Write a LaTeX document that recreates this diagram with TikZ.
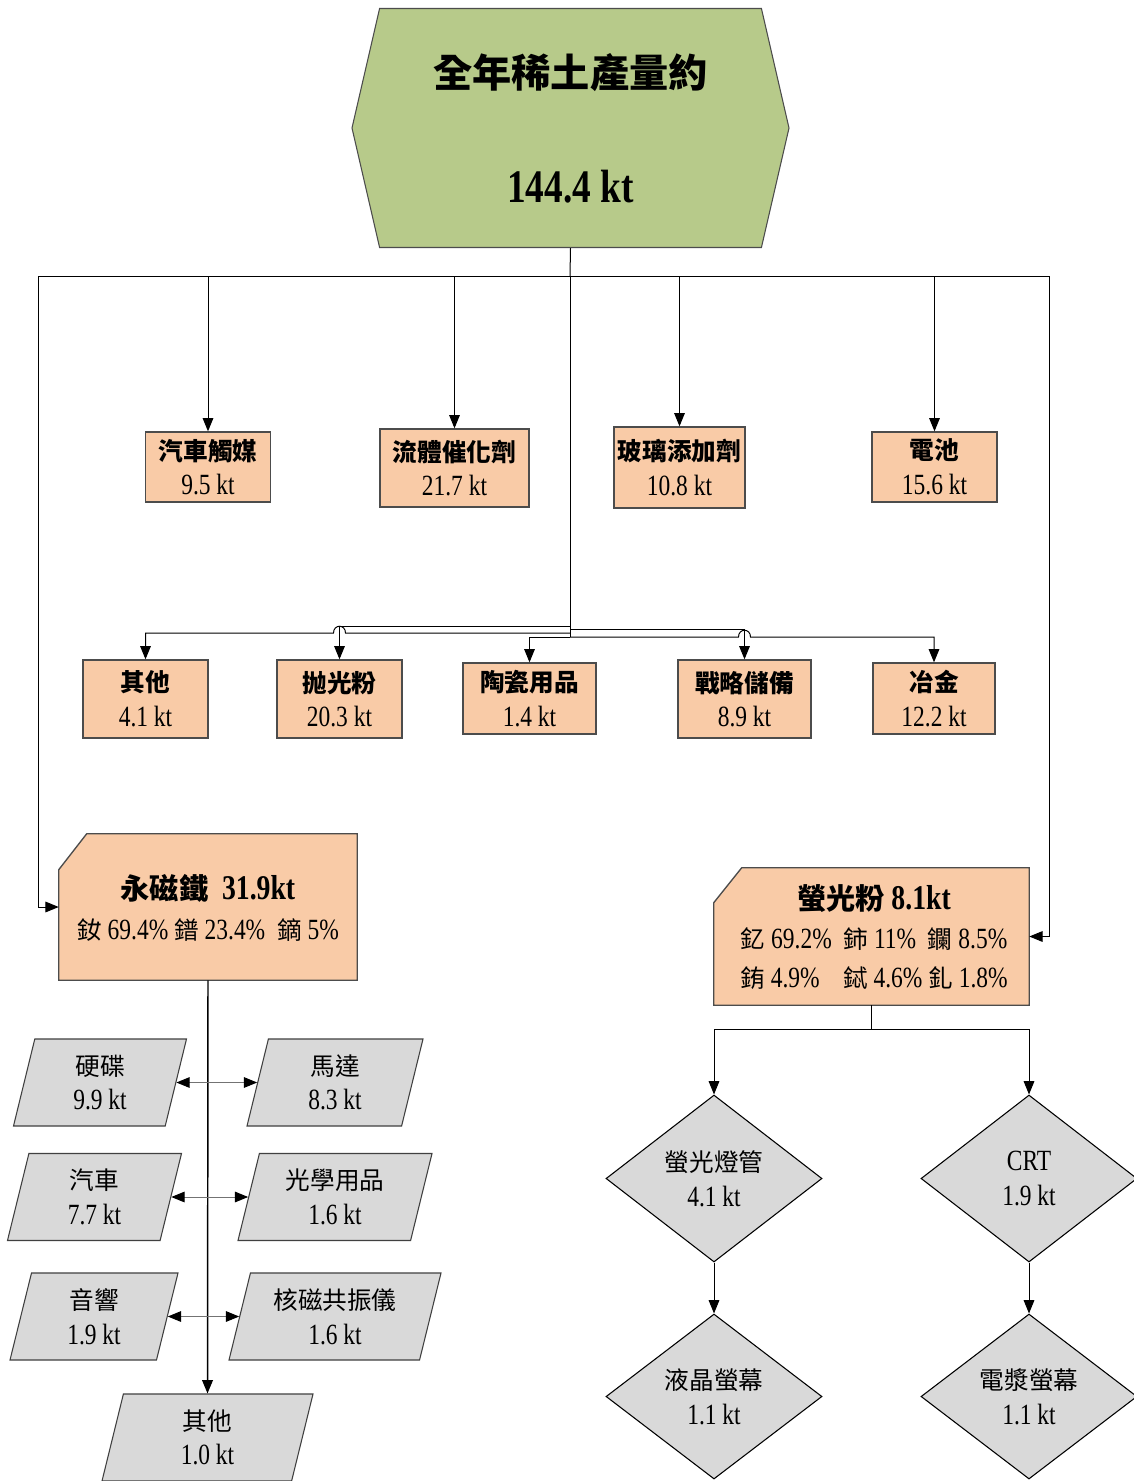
\documentclass[tikz,border=0pt]{standalone}
\usepackage{fontspec}
\setmainfont[FakeStretch=0.8]{Liberation Serif}
\newfontfamily\cjk[Scale=0.84]{Noto Sans CJK TC}
\usetikzlibrary{shapes.geometric,shapes.symbols,arrows.meta,calc}
\newcommand\zh[1]{{\cjk #1}}
\newcommand\zhb[1]{{\cjk\bfseries #1}}
\newcommand\pxu{0.75pt}
\definecolor{peach}{HTML}{F9CBA7}
\definecolor{leaf}{HTML}{B7CA8A}
\definecolor{ash}{HTML}{D9D9D9}

\begin{document}
\begin{tikzpicture}[x=0.75pt,y=-0.75pt,
  txt/.style={align=center, font=\fontsize{22}{26}\selectfont, inner sep=0pt},
  usebox/.style={txt, draw=black!70, line width=1pt, fill=peach},
  pgram/.style={txt, shape=trapezium, trapezium left angle=69, trapezium right angle=111,
    trapezium stretches body, draw=black!75, line width=0.8pt, fill=ash, minimum height=87*\pxu},
  gem/.style={txt, shape=diamond, draw=black, line width=0.8pt, fill=ash,
    minimum width=216*\pxu, minimum height=167*\pxu},
  cutframe/.style={inner sep=0pt, shape=rectangle},
  cutedge/.style={draw=black!70, line width=1pt, fill=peach},
  cuttext/.style={txt, font=\fontsize{22}{29}\selectfont},
  arr/.style={-{Triangle[length=10pt,width=8pt]}, line width=0.75pt},
  darr/.style={{Triangle[length=10pt,width=8pt,color=black]}-{Triangle[length=10pt,width=8pt,color=black]},
    line width=0.75pt, draw=black!55}
]
\useasboundingbox (0,0) rectangle (1133,1481);
\fill[white] (0,0) rectangle (1133,1481);

% total output
\node[signal, signal to=east and west, signal pointer angle=154, draw=black!70, line width=0.8pt,
  fill=leaf, minimum width=437*\pxu, minimum height=239*\pxu, inner sep=0pt, align=center,
  font=\fontsize{35}{86}\selectfont\bfseries] (top) at (570.5,128) {\zh{全年稀土產量約}\\144.4 kt};

% first row of uses
\node[usebox, minimum width=125*\pxu, minimum height=70*\pxu] (cat) at (208,467) {\zhb{汽車觸媒}\\9.5 kt};
\node[usebox, minimum width=149*\pxu, minimum height=78*\pxu] (fcc) at (454.5,468) {\zhb{流體催化劑}\\21.7 kt};
\node[usebox, minimum width=131*\pxu, minimum height=81*\pxu] (gla) at (679.5,467.5) {\zhb{玻璃添加劑}\\10.8 kt};
\node[usebox, minimum width=125*\pxu, minimum height=70*\pxu] (bat) at (934.5,467) {\zhb{電池}\\15.6 kt};

% second row of uses
\node[usebox, minimum width=125*\pxu, minimum height=78*\pxu] (oth) at (145.5,699) {\zhb{其他}\\4.1 kt};
\node[usebox, minimum width=125*\pxu, minimum height=78*\pxu] (pol) at (339.5,699) {\zhb{抛光粉}\\20.3 kt};
\node[usebox, minimum width=133*\pxu, minimum height=71*\pxu] (cer) at (529.5,698.5) {\zhb{陶瓷用品}\\1.4 kt};
\node[usebox, minimum width=133*\pxu, minimum height=78*\pxu] (str) at (744.5,699) {\zhb{戰略儲備}\\8.9 kt};
\node[usebox, minimum width=122*\pxu, minimum height=71*\pxu] (met) at (934,698.5) {\zhb{冶金}\\12.2 kt};

% magnets: box with a cut top-left corner
\node[cutframe, minimum width=298*\pxu, minimum height=146*\pxu] (pm) at (208,907) {};
\path[cutedge] ($(pm.north west)+(0,36)$) -- ($(pm.north west)+(28,0)$) -- (pm.north east)
  -- (pm.south east) -- (pm.south west) -- cycle;
\node[cuttext, font=\fontsize{22}{30}\selectfont] (pmt) at (208,908)
  {{\fontsize{26}{30}\selectfont\bfseries\zh{永磁鐵}\ \ 31.9kt}\\
   \zh{釹} 69.4\% \zh{鐠} 23.4\%\ \ \zh{鏑} 5\%};

% phosphors: box with a cut top-left corner
\node[cutframe, minimum width=315*\pxu, minimum height=137*\pxu] (ph) at (871.5,936.5) {};
\path[cutedge] ($(ph.north west)+(0,35)$) -- ($(ph.north west)+(28,0)$) -- (ph.north east)
  -- (ph.south east) -- (ph.south west) -- cycle;
\node[cuttext] (pht) at (874,937)
  {{\fontsize{26}{29}\selectfont\bfseries\zh{螢光粉} 8.1kt}\\
   \zh{釔} 69.2\%\ \ \zh{鈰} 11\%\ \ \zh{鑭} 8.5\%\\
   \zh{銪} 4.9\%\ \ \ \ \zh{鋱} 4.6\% \zh{釓} 1.8\%};

% magnet applications
\node[pgram, minimum width=173*\pxu] (hd)  at (100,1082.5)  {\zh{硬碟}\\9.9 kt};
\node[pgram, minimum width=176*\pxu] (mo)  at (335,1082.5)  {\zh{馬達}\\8.3 kt};
\node[pgram, minimum width=174*\pxu] (car) at (94.5,1197)   {\zh{汽車}\\7.7 kt};
\node[pgram, minimum width=194*\pxu] (opt) at (335,1197)    {\zh{光學用品}\\1.6 kt};
\node[pgram, minimum width=168*\pxu] (aud) at (94,1316.5)   {\zh{音響}\\1.9 kt};
\node[pgram, minimum width=212*\pxu] (mri) at (335,1316.5)  {\zh{核磁共振儀}\\1.6 kt};
\node[pgram, minimum width=211*\pxu] (oth2) at (207.5,1437.5) {\zh{其他}\\1.0 kt};

% phosphor applications
\node[gem] (d1) at (714,1178.5)  {\zh{螢光燈管}\\4.1 kt};
\node[gem] (d2) at (1029,1178.5) {CRT\\1.9 kt};
\node[gem, minimum height=165*\pxu] (d3) at (714,1396.5)  {\zh{液晶螢幕}\\1.1 kt};
\node[gem, minimum height=165*\pxu] (d4) at (1029,1396.5) {\zh{電漿螢幕}\\1.1 kt};

% distribution bus
\coordinate (bus) at (570,276);
\coordinate (busL) at (38,276);
\coordinate (busR) at (1049,276);
\draw[line width=0.75pt] (top.south) -- (bus);
\draw[line width=0.75pt] (busL) -- (busR);
\foreach \n in {cat,fcc,gla,bat} \draw[arr] (bus -| \n.north) -- (\n.north);
\draw[arr] (busL) |- (pm.west);
\draw[arr] (busR) |- (ph.east);

% trunk to the second row
\coordinate (tA) at (570,626);
\coordinate (tB) at (570,629);
\coordinate (tC) at (570,633);
\coordinate (tD) at (570,637);
\draw[line width=0.75pt] (bus) -- (tD);
\draw[arr] (tA) -| (pol.north);
\draw[arr] (tB) -| (str.north);
\draw[arr] (tC) -- ($(pol.north|-tC)+(6,0)$) .. controls +(0,-9) and +(0,-9) .. ($(pol.north|-tC)+(-6,0)$) -| (oth.north);
\draw[arr] (tD) -| (cer.north);
\draw[arr] (tD) -- ($(str.north|-tD)+(-6,0)$) .. controls +(0,-9) and +(0,-9) .. ($(str.north|-tD)+(6,0)$) -| (met.north);

% magnet branch
\draw[arr, line width=1.1pt] (pm.south) -- (oth2.north);
\draw[darr] (hd.right side) -- (mo.left side);
\draw[darr] (car.right side) -- (opt.left side);
\draw[darr] (aud.right side) -- (mri.left side);

% phosphor branch
\coordinate (pb) at (871.5,1029);
\draw[line width=0.75pt] (ph.south) -- (pb);
\draw[arr] (pb) -| (d1.north);
\draw[arr] (pb) -| (d2.north);
\draw[arr] (d1.south) -- (d3.north);
\draw[arr] (d2.south) -- (d4.north);
\end{tikzpicture}
\end{document}
